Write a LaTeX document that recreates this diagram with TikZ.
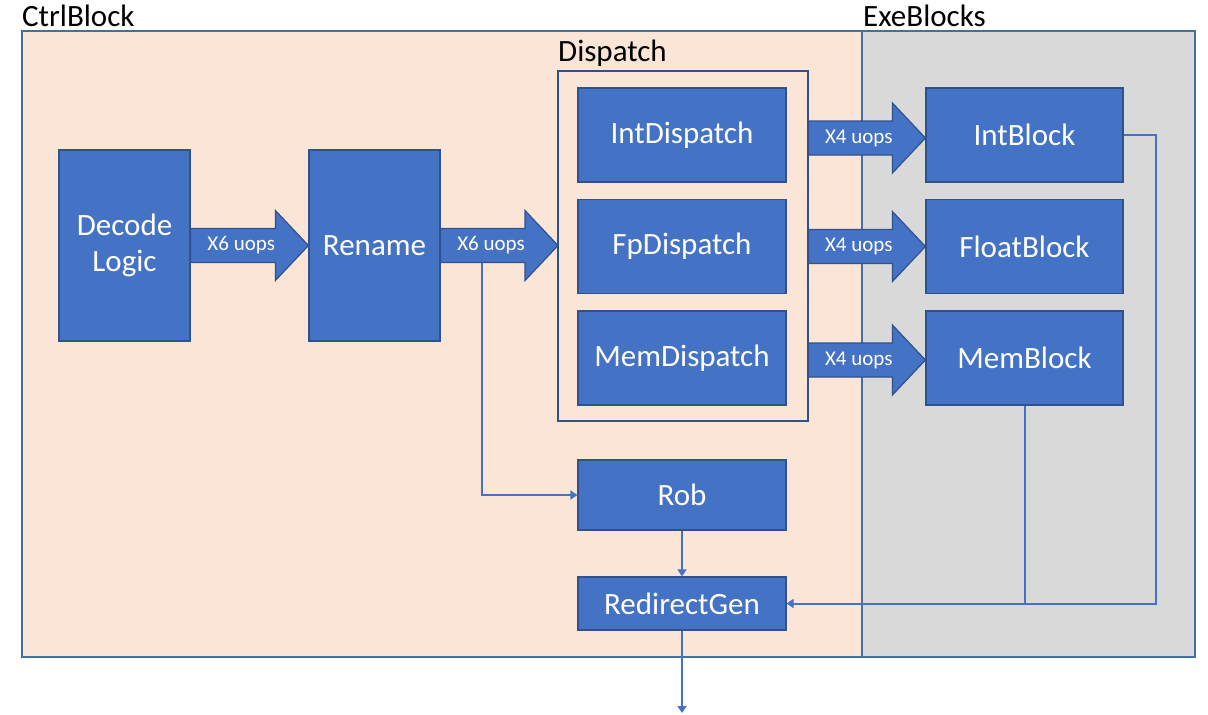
\documentclass[tikz,border=0pt]{standalone}
\usepackage{fontspec}
\setmainfont{Carlito}
\usetikzlibrary{calc,arrows.meta}
\definecolor{boxblue}{HTML}{4472C4}
\definecolor{boxedge}{HTML}{2F528F}
\definecolor{frameedge}{HTML}{41719C}
\definecolor{peach}{HTML}{FBE5D6}
\definecolor{greyfill}{HTML}{D9D9D9}
\tikzset{
  unit/.style={draw=boxedge, line width=1.2pt, fill=boxblue, text=white, font=\fontsize{31}{34}\selectfont, align=center, inner sep=0pt},
  region/.style={draw=frameedge, line width=1.5pt},
  title/.style={font=\fontsize{31}{34}\selectfont, anchor=west, inner sep=0pt},
  barrowshape/.style={draw=boxedge, line width=1.2pt, fill=boxblue},
  blabel/.style={text=white, font=\fontsize{21}{24}\selectfont, inner sep=0pt},
  link/.style={draw=boxblue, line width=2pt, -{Triangle[width=9pt,length=7pt]}},
  plainlink/.style={draw=boxblue, line width=2pt},
}
\newcommand\blockarrow[3]{%
  \draw[barrowshape] ($(#1)+(0,-17)$) -- ($(#2)+(-33,-17)$) -- ($(#2)+(-33,-35)$) -- (#2)
    -- ($(#2)+(-33,35)$) -- ($(#2)+(-33,17)$) -- ($(#1)+(0,17)$) -- cycle;
  \node[blabel] at ($(#1)!0.43!(#2)$) {#3};
}
\begin{document}
\begin{tikzpicture}[x=1pt,y=-1pt]
\useasboundingbox[fill=white] (0,0) rectangle (1208,715);
% regions
\draw[region, fill=peach] (22,31) rectangle (862,657);
\draw[region, fill=greyfill] (862,31) rectangle (1195,657);
\node[title] (ctrlt) at (22,16) {CtrlBlock};
\node[title] (exet) at (863,16) {ExeBlocks};
\draw[draw=boxedge, line width=1.3pt] (558,71) rectangle (808,421);
\node[title] (dispt) at (558,53) {Dispatch};
% units
\node[unit, minimum width=131pt, minimum height=191pt] (dec) at (124.5,245.5) {Decode\\[2pt]Logic};
\node[unit, minimum width=131pt, minimum height=191pt] (ren) at (374.5,245.5) {Rename};
\node[unit, minimum width=208pt, minimum height=94pt] (idp) at (682,135) {IntDispatch};
\node[unit, minimum width=208pt, minimum height=94pt] (fdp) at (682,246.5) {FpDispatch};
\node[unit, minimum width=208pt, minimum height=94pt] (mdp) at (682,358) {MemDispatch};
\node[unit, minimum width=197pt, minimum height=94pt] (ib) at (1024.5,135) {IntBlock};
\node[unit, minimum width=197pt, minimum height=94pt] (fb) at (1024.5,246.5) {FloatBlock};
\node[unit, minimum width=197pt, minimum height=94pt] (mb) at (1024.5,358) {MemBlock};
\node[unit, minimum width=208pt, minimum height=70pt] (rob) at (682,495) {Rob};
\node[unit, minimum width=208pt, minimum height=53pt] (rg) at (682,603.5) {RedirectGen};
% block arrows
\blockarrow{dec.east}{ren.west}{X6 uops}
\coordinate (dispin) at (558,245.5);
\blockarrow{ren.east}{dispin}{X6 uops}
\coordinate (ibin) at ($(ib.west)+(0,3)$);
\coordinate (idout) at ($(idp.east)+(22,3)$);
\blockarrow{idout}{ibin}{X4 uops}
\coordinate (fbin) at ($(fb.west)+(0,0)$);
\coordinate (fdout) at ($(fdp.east)+(22,0)$);
\blockarrow{fdout}{fbin}{X4 uops}
\coordinate (mbin) at ($(mb.west)+(0,2)$);
\coordinate (mdout) at ($(mdp.east)+(22,2)$);
\blockarrow{mdout}{mbin}{X4 uops}
% connectors
\coordinate (split) at ($(ren.east)+(41,17)$);
\draw[link] (split) |- (rob.west);
\draw[link] (rob.south) -- (rg.north);
\coordinate (out) at (682,713);
\draw[link] (rg.south) -- (out);
\draw[link] (ib.east) -- ++(32,0) |- (rg.east);
\draw[plainlink] (mb.south) -- (mb.south |- rg.east);
\end{tikzpicture}
\end{document}
